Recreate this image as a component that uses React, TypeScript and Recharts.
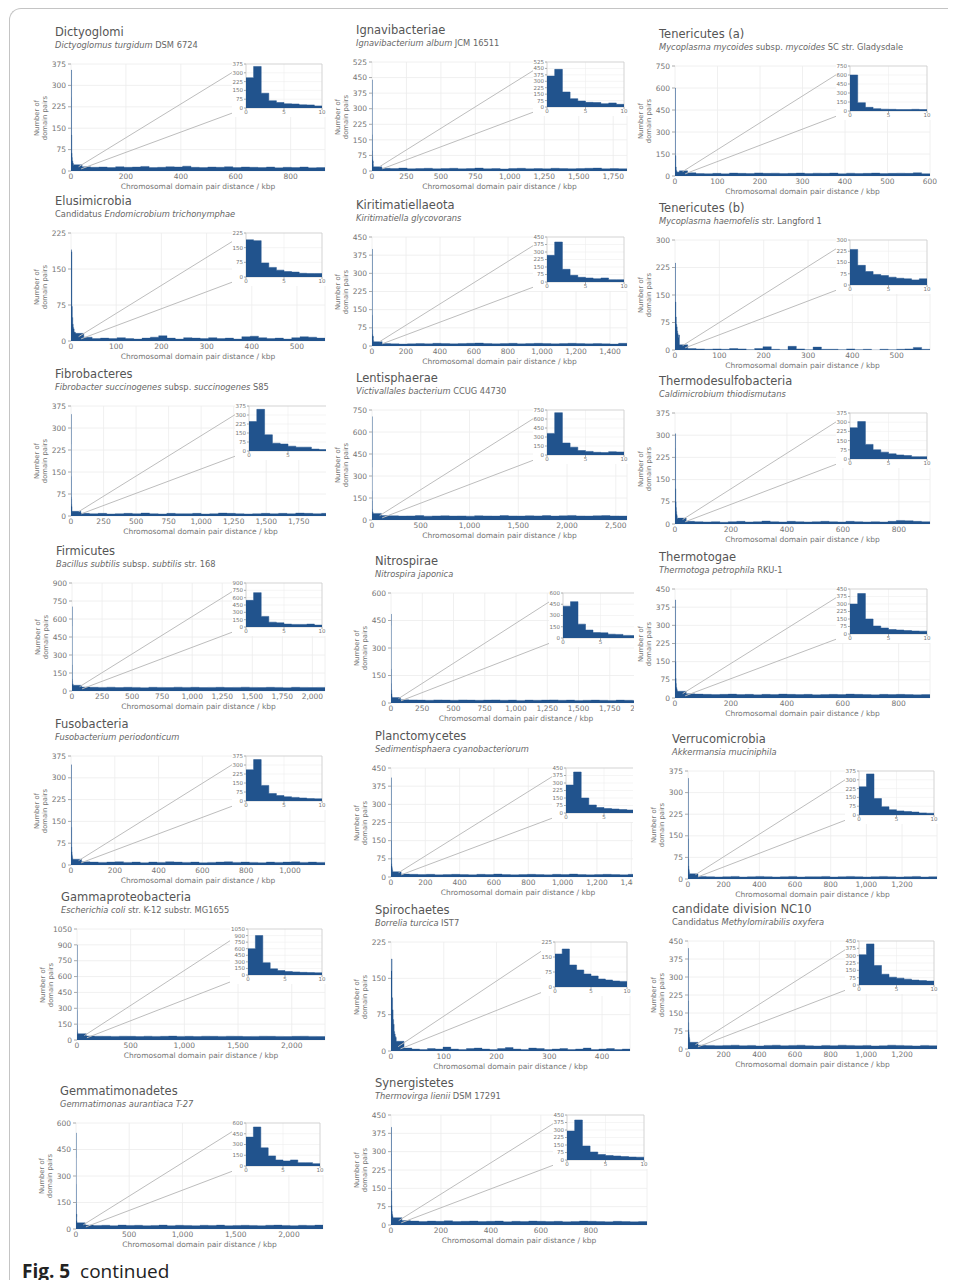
import { Area, CartesianGrid, ComposedChart, ReferenceArea, ReferenceLine, XAxis, YAxis } from "recharts";

// y tick sets
const Y225 = [0, 75, 150, 225];
const Y300 = [0, 75, 150, 225, 300];
const Y375 = [0, 75, 150, 225, 300, 375];
const Y450 = [0, 75, 150, 225, 300, 375, 450];
const Y525 = [0, 75, 150, 225, 300, 375, 450, 525];
const Y600 = [0, 150, 300, 450, 600];
const Y750 = [0, 150, 300, 450, 600, 750];
const Y900 = [0, 150, 300, 450, 600, 750, 900];
const Y1050 = [0, 150, 300, 450, 600, 750, 900, 1050];

// first 10 kbp, 1 kbp bins (also drawn in the insets)
const dictyoglomiNear = [258, 354, 126, 62, 47, 36, 34, 27, 26, 18];
const ignavibacteriaeNear = [361, 439, 175, 97, 70, 54, 52, 39, 47, 31];
const tenericutesANear = [600, 139, 61, 39, 30, 28, 25, 25, 28, 25];
const elusimicrobiaNear = [190, 186, 72, 49, 35, 28, 25, 19, 18, 18];
const kiritimatiellaeotaNear = [267, 400, 127, 67, 47, 40, 33, 40, 23, 23];
const tenericutesBNear = [237, 131, 90, 70, 63, 52, 45, 41, 34, 41];
const fibrobacteresNear = [245, 347, 135, 65, 58, 40, 32, 32, 16, 12];
const lentisphaeraeNear = [360, 705, 200, 130, 75, 60, 45, 40, 55, 50];
const thermodesulfoNear = [255, 305, 119, 75, 56, 42, 33, 28, 19, 19];
const firmicutesNear = [545, 703, 217, 99, 85, 59, 53, 53, 59, 39];
const nitrospiraeNear = [425, 485, 185, 106, 72, 69, 51, 48, 35, 32];
const thermotogaeNear = [300, 405, 150, 80, 60, 45, 40, 35, 30, 28];
const fusobacteriaNear = [260, 345, 130, 62, 45, 35, 30, 25, 20, 18];
const planctomycetesNear = [280, 410, 150, 80, 55, 45, 40, 35, 30, 28];
const verrucomicrobiaNear = [240, 350, 140, 70, 45, 35, 30, 25, 18, 15];
const gammaNear = [600, 900, 280, 140, 100, 80, 70, 60, 55, 50];
const spirochaetesNear = [165, 190, 110, 85, 65, 55, 40, 35, 30, 28];
const nc10Near = [310, 420, 200, 110, 80, 70, 60, 50, 45, 40];
const gemmatimonadetesNear = [403, 544, 253, 141, 84, 70, 84, 47, 47, 33];
const synergistetesNear = [290, 400, 140, 80, 55, 45, 40, 35, 30, 28];

// rest of the genome, coarse bins from 10 kbp to the end
const dictyoglomiTail = [22, 15, 13, 14, 12, 15, 13, 14, 16, 12, 13, 15, 14, 17, 13, 12, 14, 13, 15, 12, 14, 13, 12, 14, 11, 13, 12, 14, 11, 12];
const ignavibacteriaeTail = [20, 13, 12, 14, 11, 12, 13, 11, 12, 13, 11, 12, 14, 11, 12, 10, 12, 13, 11, 12, 11, 13, 12, 11, 12, 13, 14, 11, 12, 11];
const tenericutesATail = [35, 22, 17, 16, 18, 15, 20, 18, 17, 21, 18, 19, 17, 18, 20, 17, 19, 18, 20, 16, 19, 17, 18, 20, 17, 18, 19, 18, 22, 16];
const elusimicrobiaTail = [16, 8, 5, 6, 5, 7, 5, 4, 6, 8, 11, 6, 4, 7, 6, 5, 7, 5, 6, 4, 9, 10, 7, 5, 6, 4, 7, 9, 8, 6];
const kiritimatiellaeotaTail = [18, 10, 9, 8, 9, 10, 9, 11, 10, 9, 10, 11, 12, 10, 9, 10, 11, 9, 10, 11, 10, 9, 10, 11, 10, 9, 10, 9, 8, 11];
const tenericutesBTail = [14, 4, 3, 2, 3, 2, 4, 3, 1, 4, 9, 2, 1, 10, 3, 1, 8, 2, 2, 1, 3, 1, 2, 0, 2, 1, 2, 3, 7, 2];
const fibrobacteresTail = [16, 9, 8, 9, 7, 8, 9, 8, 10, 8, 7, 9, 8, 8, 9, 7, 8, 10, 9, 8, 7, 8, 9, 8, 9, 8, 10, 9, 8, 9];
const lentisphaeraeTail = [45, 30, 29, 27, 28, 30, 26, 28, 29, 27, 28, 26, 29, 28, 27, 30, 28, 27, 29, 28, 30, 27, 29, 31, 28, 27, 29, 30, 28, 27];
const thermodesulfoTail = [20, 9, 8, 7, 8, 6, 8, 9, 7, 8, 10, 8, 7, 9, 8, 7, 8, 9, 8, 7, 9, 8, 7, 8, 7, 9, 12, 11, 9, 8];
const firmicutesTail = [48, 33, 31, 30, 32, 29, 31, 30, 28, 31, 30, 29, 32, 30, 31, 29, 30, 31, 29, 30, 32, 30, 29, 31, 30, 28, 31, 30, 29, 30];
const nitrospiraeTail = [30, 18, 17, 16, 15, 17, 16, 15, 17, 16, 15, 16, 17, 15, 16, 14, 16, 15, 16, 17, 15, 16, 14, 15, 16, 15, 14, 16, 15, 14];
const thermotogaeTail = [28, 18, 16, 15, 14, 15, 16, 14, 15, 13, 15, 14, 16, 15, 14, 15, 13, 14, 15, 14, 16, 15, 14, 13, 15, 14, 15, 14, 13, 14];
const fusobacteriaTail = [20, 11, 10, 9, 10, 11, 9, 10, 8, 10, 9, 11, 10, 9, 10, 8, 9, 10, 11, 9, 10, 9, 8, 10, 9, 10, 11, 9, 10, 9];
const planctomycetesTail = [22, 12, 11, 10, 11, 9, 10, 11, 10, 9, 11, 10, 12, 10, 9, 10, 11, 10, 9, 11, 10, 12, 10, 9, 10, 11, 10, 9, 11, 10];
const verrucomicrobiaTail = [18, 9, 8, 7, 8, 9, 7, 8, 9, 8, 7, 8, 9, 7, 8, 8, 9, 7, 8, 9, 8, 7, 8, 9, 8, 7, 8, 9, 7, 8];
const gammaTail = [60, 38, 36, 35, 34, 36, 35, 33, 36, 34, 35, 37, 34, 35, 33, 36, 35, 34, 36, 35, 33, 34, 36, 35, 34, 33, 35, 36, 34, 33];
const spirochaetesTail = [20, 6, 4, 3, 5, 4, 8, 4, 3, 5, 6, 4, 3, 5, 7, 4, 3, 6, 5, 3, 4, 5, 3, 4, 6, 3, 4, 5, 3, 4];
const nc10Tail = [28, 16, 15, 14, 15, 16, 14, 15, 13, 15, 16, 14, 15, 16, 14, 13, 15, 14, 16, 15, 14, 15, 13, 14, 16, 15, 14, 13, 15, 14];
const gemmatimonadetesTail = [35, 22, 20, 21, 19, 22, 20, 21, 19, 20, 22, 19, 21, 20, 19, 21, 20, 22, 19, 20, 21, 20, 19, 21, 22, 20, 19, 21, 20, 22];
const synergistetesTail = [30, 18, 16, 14, 16, 15, 17, 14, 15, 16, 14, 15, 16, 13, 15, 14, 16, 15, 14, 15, 13, 14, 16, 15, 14, 13, 15, 14, 13, 14];

type Part = [string, boolean];
type PanelCfg = {
  title: string;
  sub: Part[];
  left: number;
  top: number;
  right: number;
  bottom: number;
  xMax: number;
  xTicks: number[];
  yTicks: number[];
  near: number[];
  tail: number[];
  crop?: number;
};

const I = true;
const R = false;

const panels: PanelCfg[] = [
  { title: "Dictyoglomi", sub: [["Dictyoglomus turgidum", I], [" DSM 6724", R]], left: 71, top: 64, right: 325, bottom: 171, xMax: 925, xTicks: [0, 200, 400, 600, 800], yTicks: Y375, near: dictyoglomiNear, tail: dictyoglomiTail },
  { title: "Ignavibacteriae", sub: [["Ignavibacterium album", I], [" JCM 16511", R]], left: 372, top: 62, right: 627, bottom: 171, xMax: 1850, xTicks: [0, 250, 500, 750, 1000, 1250, 1500, 1750], yTicks: Y525, near: ignavibacteriaeNear, tail: ignavibacteriaeTail },
  { title: "Tenericutes (a)", sub: [["Mycoplasma mycoides", I], [" subsp. ", R], ["mycoides", I], [" SC str. Gladysdale", R]], left: 675, top: 66, right: 930, bottom: 176, xMax: 600, xTicks: [0, 100, 200, 300, 400, 500, 600], yTicks: Y750, near: tenericutesANear, tail: tenericutesATail },
  { title: "Elusimicrobia", sub: [["Candidatus ", R], ["Endomicrobium trichonymphae", I]], left: 71, top: 233, right: 325, bottom: 341, xMax: 562, xTicks: [0, 100, 200, 300, 400, 500], yTicks: Y225, near: elusimicrobiaNear, tail: elusimicrobiaTail },
  { title: "Kiritimatiellaeota", sub: [["Kiritimatiella glycovorans", I]], left: 372, top: 237, right: 627, bottom: 346, xMax: 1500, xTicks: [0, 200, 400, 600, 800, 1000, 1200, 1400], yTicks: Y450, near: kiritimatiellaeotaNear, tail: kiritimatiellaeotaTail },
  { title: "Tenericutes (b)", sub: [["Mycoplasma haemofelis", I], [" str. Langford 1", R]], left: 675, top: 240, right: 930, bottom: 350, xMax: 575, xTicks: [0, 100, 200, 300, 400, 500], yTicks: Y300, near: tenericutesBNear, tail: tenericutesBTail },
  { title: "Fibrobacteres", sub: [["Fibrobacter succinogenes", I], [" subsp. ", R], ["succinogenes", I], [" S85", R]], left: 71, top: 406, right: 330, bottom: 516, xMax: 1990, xTicks: [0, 250, 500, 750, 1000, 1250, 1500, 1750], yTicks: Y375, near: fibrobacteresNear, tail: fibrobacteresTail, crop: 326 },
  { title: "Lentisphaerae", sub: [["Victivallales bacterium", I], [" CCUG 44730", R]], left: 372, top: 410, right: 627, bottom: 520, xMax: 2615, xTicks: [0, 500, 1000, 1500, 2000, 2500], yTicks: Y750, near: lentisphaeraeNear, tail: lentisphaeraeTail },
  { title: "Thermodesulfobacteria", sub: [["Caldimicrobium thiodismutans", I]], left: 675, top: 413, right: 930, bottom: 524, xMax: 911, xTicks: [0, 200, 400, 600, 800], yTicks: Y375, near: thermodesulfoNear, tail: thermodesulfoTail },
  { title: "Firmicutes", sub: [["Bacillus subtilis", I], [" subsp. ", R], ["subtilis", I], [" str. 168", R]], left: 72, top: 583, right: 325, bottom: 691, xMax: 2105, xTicks: [0, 250, 500, 750, 1000, 1250, 1500, 1750, 2000], yTicks: Y900, near: firmicutesNear, tail: firmicutesTail },
  { title: "Nitrospirae", sub: [["Nitrospira japonica", I]], left: 391, top: 593, right: 641, bottom: 703, xMax: 2000, xTicks: [0, 250, 500, 750, 1000, 1250, 1500, 1750, 2000], yTicks: Y600, near: nitrospiraeNear, tail: nitrospiraeTail, crop: 634 },
  { title: "Thermotogae", sub: [["Thermotoga petrophila", I], [" RKU-1", R]], left: 675, top: 589, right: 930, bottom: 698, xMax: 912, xTicks: [0, 200, 400, 600, 800], yTicks: Y450, near: thermotogaeNear, tail: thermotogaeTail },
  { title: "Fusobacteria", sub: [["Fusobacterium periodonticum", I]], left: 71, top: 756, right: 325, bottom: 865, xMax: 1160, xTicks: [0, 200, 400, 600, 800, 1000], yTicks: Y375, near: fusobacteriaNear, tail: fusobacteriaTail },
  { title: "Planctomycetes", sub: [["Sedimentisphaera cyanobacteriorum", I]], left: 391, top: 768, right: 645, bottom: 877, xMax: 1480, xTicks: [0, 200, 400, 600, 800, 1000, 1200, 1400], yTicks: Y450, near: planctomycetesNear, tail: planctomycetesTail, crop: 633 },
  { title: "Verrucomicrobia", sub: [["Akkermansia muciniphila", I]], left: 688, top: 771, right: 937, bottom: 879, xMax: 1396, xTicks: [0, 200, 400, 600, 800, 1000, 1200], yTicks: Y375, near: verrucomicrobiaNear, tail: verrucomicrobiaTail },
  { title: "Gammaproteobacteria", sub: [["Escherichia coli", I], [" str. K-12 substr. MG1655", R]], left: 77, top: 929, right: 325, bottom: 1040, xMax: 2310, xTicks: [0, 500, 1000, 1500, 2000], yTicks: Y1050, near: gammaNear, tail: gammaTail },
  { title: "Spirochaetes", sub: [["Borrelia turcica", I], [" IST7", R]], left: 391, top: 942, right: 630, bottom: 1051, xMax: 453, xTicks: [0, 100, 200, 300, 400], yTicks: Y225, near: spirochaetesNear, tail: spirochaetesTail },
  { title: "candidate division NC10", sub: [["Candidatus ", R], ["Methylomirabilis oxyfera", I]], left: 688, top: 941, right: 937, bottom: 1049, xMax: 1396, xTicks: [0, 200, 400, 600, 800, 1000, 1200], yTicks: Y450, near: nc10Near, tail: nc10Tail },
  { title: "Gemmatimonadetes", sub: [["Gemmatimonas aurantiaca T-27", I]], left: 76, top: 1123, right: 323, bottom: 1229, xMax: 2320, xTicks: [0, 500, 1000, 1500, 2000], yTicks: Y600, near: gemmatimonadetesNear, tail: gemmatimonadetesTail },
  { title: "Synergistetes", sub: [["Thermovirga lienii", I], [" DSM 17291", R]], left: 391, top: 1115, right: 647, bottom: 1225, xMax: 1025, xTicks: [0, 200, 400, 600, 800], yTicks: Y450, near: synergistetesNear, tail: synergistetesTail },
];

const BLUE = "#21538d";
const FONT = "DejaVu Sans";
const TICK = { fontSize: 7.5, fill: "#747474", fontFamily: FONT };
const ITICK = { fontSize: 5.5, fill: "#747474", fontFamily: FONT };
const fmt = (v: number) => v.toLocaleString("en-US");

function mainData(near: number[], tail: number[], xMax: number) {
  const pts = near.map((y, i) => ({ x: i, y }));
  const step = (xMax - 10) / tail.length;
  tail.forEach((y, i) => pts.push({ x: 10 + i * step, y }));
  pts.push({ x: xMax, y: tail[tail.length - 1] });
  return pts;
}

function insetData(near: number[]) {
  const pts = near.map((y, i) => ({ x: i, y }));
  pts.push({ x: 10, y: near[near.length - 1] });
  return pts;
}

const YW = 32;
const MT = 6;
const MR = 22;
const XH = 20;
const IMT = 3;
const IMR = 5;
const IXH = 9;

function Panel({ p }: { p: PanelCfg }) {
  const W = p.right - p.left;
  const H = p.bottom - p.top;
  const yMax = p.yTicks[p.yTicks.length - 1];
  const IYW = yMax >= 1000 ? 18 : 14;
  const chartLeft = p.left - YW;
  const chartTop = p.top - MT;
  const chartW = YW + W + MR;
  const chartH = MT + H + XH;
  const cropW = p.crop ? p.crop - chartLeft : chartW;
  const iW = Math.round(W * 0.3);
  const iH = Math.round(H * 0.41);
  const iL = p.right - 3 - iW;
  const xL = ((iL - p.left) / W) * p.xMax;
  const yB = yMax * (1 - iH / H);
  const insetTicks = p.crop ? [0, 5] : [0, 5, 10];

  return (
    <>
      <div style={{ position: "absolute", left: p.left - 16, top: p.top - 39, fontSize: 11.5, color: "#555", whiteSpace: "nowrap", lineHeight: "14px" }}>
        {p.title}
      </div>
      <div style={{ position: "absolute", left: p.left - 16, top: p.top - 24, fontSize: 8.3, color: "#666", whiteSpace: "nowrap", lineHeight: "10px" }}>
        {p.sub.map(([t, it], k) => (
          <span key={k} style={{ fontStyle: it ? "italic" : "normal", whiteSpace: "pre" }}>{t}</span>
        ))}
      </div>
      <div style={{ position: "absolute", left: p.left - 29, top: (p.top + p.bottom) / 2, transform: "translate(-50%,-50%) rotate(-90deg)", fontSize: 6.8, color: "#747474", textAlign: "center", lineHeight: "7.6px", whiteSpace: "nowrap" }}>
        Number of<br />domain pairs
      </div>
      <div style={{ position: "absolute", left: (p.left + p.right) / 2, top: p.bottom + 15, transform: "translate(-50%,-50%)", fontSize: 7.5, color: "#747474", whiteSpace: "nowrap" }}>
        Chromosomal domain pair distance / kbp
      </div>
      <div style={{ position: "absolute", left: chartLeft, top: chartTop, width: cropW, height: chartH, overflow: "hidden" }}>
        <ComposedChart width={chartW} height={chartH} data={mainData(p.near, p.tail, p.xMax)} margin={{ top: MT, right: MR, left: 0, bottom: 0 }}>
          <CartesianGrid stroke="#ececec" strokeWidth={0.8} />
          <XAxis dataKey="x" type="number" domain={[0, p.xMax]} ticks={p.xTicks} interval={0} allowDataOverflow height={XH} tick={TICK} tickLine={false} axisLine={false} tickSize={2} tickMargin={1} tickFormatter={fmt} />
          <YAxis type="number" domain={[0, yMax]} ticks={p.yTicks} interval={0} allowDataOverflow width={YW} tick={TICK} tickLine={{ stroke: "#aaa" }} axisLine={false} tickSize={3} tickMargin={2} />
          <Area type="stepAfter" dataKey="y" fill={BLUE} fillOpacity={1} stroke={BLUE} strokeOpacity={0.5} strokeWidth={0.7} isAnimationActive={false} dot={false} activeDot={false} />
          <ReferenceLine segment={[{ x: p.xMax * 0.03, y: yMax * 0.04 }, { x: xL, y: yMax }]} stroke="#bdbdbd" strokeWidth={1} ifOverflow="visible" />
          <ReferenceLine segment={[{ x: p.xMax * 0.04, y: yMax * 0.02 }, { x: xL, y: yB }]} stroke="#bdbdbd" strokeWidth={1} ifOverflow="visible" />
        </ComposedChart>
        <div style={{ position: "absolute", left: iL - IYW - chartLeft, top: MT - IMT, width: IYW + iW + IMR, height: IMT + iH + IXH, background: "#fff" }}>
          <ComposedChart width={IYW + iW + IMR} height={IMT + iH + IXH} data={insetData(p.near)} margin={{ top: IMT, right: IMR, left: 0, bottom: 0 }}>
            <CartesianGrid stroke="#efefef" strokeWidth={0.6} />
            <XAxis dataKey="x" type="number" domain={[0, 10]} ticks={insetTicks} interval={0} allowDataOverflow height={IXH} tick={ITICK} tickLine={{ stroke: "#aaa" }} axisLine={false} tickSize={2} tickMargin={0} />
            <YAxis type="number" domain={[0, yMax]} ticks={p.yTicks} interval={0} allowDataOverflow width={IYW} tick={ITICK} tickLine={{ stroke: "#aaa" }} axisLine={false} tickSize={2} tickMargin={1} />
            <ReferenceArea x1={0} x2={10} y1={0} y2={yMax} fill="none" stroke="#cfcfcf" strokeWidth={0.8} ifOverflow="visible" />
            <Area type="stepAfter" dataKey="y" fill={BLUE} fillOpacity={1} stroke={BLUE} strokeWidth={0.5} isAnimationActive={false} dot={false} activeDot={false} />
          </ComposedChart>
        </div>
      </div>
    </>
  );
}

export default function App() {
  return (
    <div style={{ position: "relative", margin: -8, width: 956, height: 1288, overflow: "hidden", background: "#fff", fontFamily: FONT }}>
      <div style={{ position: "absolute", left: 9, top: 8, width: 980, height: 1320, borderLeft: "1px solid #c4c4c4", borderTop: "1px solid #c4c4c4", borderTopLeftRadius: 12 }} />
      {panels.map((p) => (
        <Panel key={p.title} p={p} />
      ))}
      <div style={{ position: "absolute", left: 22, top: 1259, fontFamily: "Open Sans", fontSize: 19, color: "#222", whiteSpace: "nowrap", lineHeight: "24px" }}>
        <b>Fig. 5</b>&nbsp; continued
      </div>
    </div>
  );
}
